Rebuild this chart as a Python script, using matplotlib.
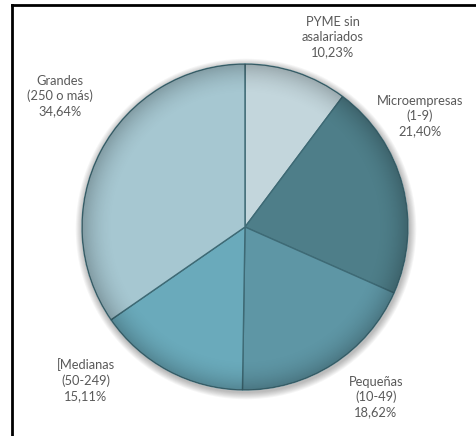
import numpy as np
import matplotlib.pyplot as plt
from matplotlib.patches import Circle
from matplotlib.lines import Line2D

# company size shares (%)
labels = ['PYME sin\nasalariados', 'Microempresas\n(1-9)', 'Pequeñas\n(10-49)',
          '[Medianas\n(50-249)', 'Grandes\n(250 o más)']
shares = [10.23, 21.40, 18.62, 15.11, 34.64]
colors = ['#c3d6dc', '#4e7e89', '#5e96a5', '#6aaabb', '#a6c7d1']

# label anchors in pixel space (x, y from top)
label_pos = [(333, 37), (420, 116), (376, 397), (86, 380), (60, 96)]

W, H = 476, 436
fig = plt.figure(figsize=(W / 100, H / 100), dpi=100)
ax = fig.add_axes([0, 0, 1, 1])

cx, cy, r = 245, H - 227, 163

# soft shadow around the pie
for i in range(8):
    ax.add_patch(Circle((cx + 1, cy - 2), r + 1 + i * 0.9, color='#000000',
                        alpha=0.035, lw=0, zorder=1))
ax.add_patch(Circle((cx, cy), r + 0.5, color='white', lw=0, zorder=1.5))

wedges, _ = ax.pie(shares, colors=colors, startangle=90, counterclock=False,
                   center=(cx, cy), radius=r,
                   wedgeprops=dict(edgecolor='#3e6a75', linewidth=1.0))
for w in wedges:
    w.set_zorder(2)

# darken towards the rim for a rounded look
yy, xx = np.mgrid[0:H, 0:W]
dist = np.hypot(xx - cx, (H - yy) - cy) / r
shade = np.zeros((H, W, 4))
shade[..., 3] = np.clip((dist - 0.80) / 0.20, 0, 1) ** 2 * 0.22
im = ax.imshow(shade, extent=(0, W, 0, H), origin='upper', zorder=3,
               interpolation='bilinear')
im.set_clip_path(Circle((cx, cy), r, transform=ax.transData))

ax.set_xlim(0, W)
ax.set_ylim(0, H)
ax.set_aspect('equal')
ax.axis('off')

for lab, val, (x, y) in zip(labels, shares, label_pos):
    txt = lab + '\n' + f'{val:.2f}'.replace('.', ',') + '%'
    ax.text(x, H - y, txt, ha='center', va='center', fontsize=9.3,
            family='Lato', color='#595959', linespacing=1.3, zorder=5)

# frame: only the top and left edges fall inside the image
fig.add_artist(Line2D([12 / W, 12 / W], [0, 1 - 5 / H], color='black', lw=2,
                      solid_capstyle='projecting'))
fig.add_artist(Line2D([12 / W, 1], [1 - 5 / H, 1 - 5 / H], color='black', lw=2,
                      solid_capstyle='projecting'))

fig.savefig('out.png', dpi=100)
